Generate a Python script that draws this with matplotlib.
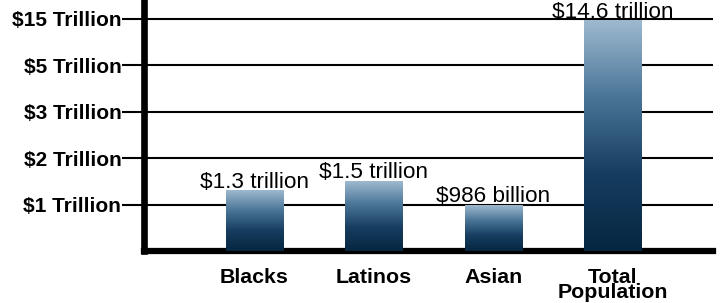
import numpy as np
import matplotlib
matplotlib.use('Agg')
import matplotlib.pyplot as plt
from matplotlib.colors import LinearSegmentedColormap

categories = ['Blacks', 'Latinos', 'Asian', 'Total\nPopulation']
values = [1.3, 1.5, 0.986, 14.6]  # trillions of dollars
value_labels = ['$1.3 trillion', '$1.5 trillion', '$986 billion', '$14.6 trillion']
tick_values = [1, 2, 3, 5, 15]
tick_labels = ['$1 Trillion', '$2 Trillion', '$3 Trillion', '$5 Trillion', '$15 Trillion']

# broken axis: every labelled tick gets the same room
knots_v = [0, 1, 2, 3, 5, 15, 25]
knots_p = [0, 1, 2, 3, 4, 5, 6]


def fwd(v):
    return np.interp(v, knots_v, knots_p)


def inv(p):
    return np.interp(p, knots_p, knots_v)


plt.rcParams['font.family'] = ['Liberation Sans', 'DejaVu Sans']

fig = plt.figure(figsize=(7.2, 3.03), dpi=100)
ax = fig.add_axes([143.5 / 720, 52 / 303, (713 - 143.5) / 720, 251 / 303])
ax.set_yscale('function', functions=(fwd, inv))

x = np.arange(len(categories))
xlim = (-0.93, 3.84)
ylim = (0, inv(251 / 46.4))
ax.set_xlim(*xlim)
ax.set_ylim(*ylim)

bars = ax.bar(x, values, width=0.48, color='none', zorder=3)

# gradient fill for each bar (light steel blue at top, dark navy at bottom)
cmap = LinearSegmentedColormap.from_list('bar', ['#062640', '#163d60', '#4a7597', '#9db9cf'])
grad = np.linspace(0, 1, 256).reshape(-1, 1)
to_axes = ax.transData + ax.transAxes.inverted()
for b in bars:
    (x0, y0), (x1, y1) = to_axes.transform([(b.get_x(), 0), (b.get_x() + b.get_width(), b.get_height())])
    ax.imshow(grad, cmap=cmap, origin='lower', aspect='auto', extent=[x0, x1, y0, y1],
              transform=ax.transAxes, zorder=3, interpolation='bilinear')
ax.set_xlim(*xlim)
ax.set_ylim(*ylim)

for b, lab in zip(bars, value_labels):
    ax.annotate(lab, (b.get_x() + b.get_width() / 2, b.get_height()), xytext=(0, 2.2),
                textcoords='offset points', ha='center', va='baseline', fontsize=16.2, zorder=4)

ax.set_yticks(tick_values)
ax.set_yticklabels(tick_labels, fontsize=15, fontweight='bold')
ax.yaxis.set_minor_locator(plt.NullLocator())
ax.tick_params(axis='y', length=16, width=1.5, pad=0, color='black')
ax.set_xticks(x)
ax.set_xticklabels(categories, fontsize=15.4, fontweight='bold', linespacing=0.75)
ax.tick_params(axis='x', length=0, pad=12)

ax.grid(axis='y', color='black', linewidth=1.5, zorder=1)
ax.set_axisbelow(True)
for s in ['top', 'right']:
    ax.spines[s].set_visible(False)
ax.spines['left'].set_linewidth(4.8)
ax.spines['bottom'].set_linewidth(4.5)

fig.savefig('out.png', dpi=100)
